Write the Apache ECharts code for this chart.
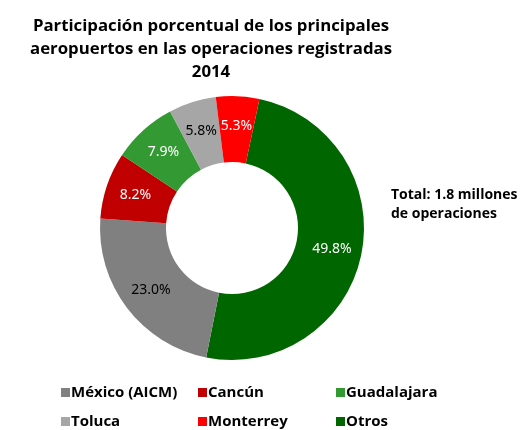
<!DOCTYPE html>
<html>
<head>
<meta charset="utf-8">
<script src="https://cdn.jsdelivr.net/npm/echarts@6/dist/echarts.min.js"></script>
<style>
  html, body { margin: 0; padding: 0; background: #fff; }
  #chart { width: 522px; height: 430px; }
</style>
</head>
<body>
<div id="chart"></div>
<script>
// datos (orden en el anillo, en sentido horario desde arriba)
var aeropuertos = ['Otros', 'México (AICM)', 'Cancún', 'Guadalajara', 'Toluca', 'Monterrey'];
var porcentajes = [49.8, 23.0, 8.2, 7.9, 5.8, 5.3];
var colores = ['#006600', '#808080', '#C00000', '#339933', '#A6A6A6', '#FF0000'];
var colorEtiqueta = ['#fff', '#000', '#fff', '#fff', '#000', '#fff'];

var titulo = 'Participación porcentual de los principales\naeropuertos en las operaciones registradas\n2014';
var nota = 'Total: 1.8 millones\nde operaciones';

// columnas de la leyenda
var leyendaCol1 = ['México (AICM)', 'Toluca'];
var leyendaCol2 = ['Cancún', 'Monterrey'];
var leyendaCol3 = ['Guadalajara', 'Otros'];

var fuente = 'Open Sans';

var datos = aeropuertos.map(function (n, i) {
    return {
        name: n,
        value: porcentajes[i],
        itemStyle: { color: colores[i] },
        label: { color: colorEtiqueta[i] }
    };
});

function leyenda(items, x) {
    return {
        data: items,
        orient: 'vertical',
        left: x,
        top: 385,
        padding: 0,
        itemWidth: 9,
        itemHeight: 9,
        itemGap: 14,
        icon: 'rect',
        textStyle: { fontFamily: fuente, fontWeight: 'bold', fontSize: 15, lineHeight: 15, color: '#000', padding: [0, 0, 0, -4] },
        selectedMode: false
    };
}

var myChart = echarts.init(document.getElementById('chart'));
var option = {
    animation: false,
    title: {
        text: titulo,
        left: 206,
        top: 10,
        textAlign: 'center',
        textStyle: { fontFamily: fuente, fontWeight: 'bold', fontSize: 16.8, lineHeight: 23, color: '#000' }
    },
    legend: [leyenda(leyendaCol1, 61), leyenda(leyendaCol2, 198), leyenda(leyendaCol3, 336)],
    graphic: [{
        type: 'text',
        left: 391,
        top: 186,
        style: { text: nota, fontFamily: fuente, fontWeight: 'bold', fontSize: 14, lineHeight: 19, fill: '#000' }
    }],
    series: [{
        type: 'pie',
        center: [232, 228],
        radius: [66, 132],
        startAngle: 78,
        clockwise: true,
        avoidLabelOverlap: false,
        label: {
            position: 'inside',
            fontFamily: 'Noto Sans',
            fontSize: 14,
            formatter: function (p) { return p.value.toFixed(1) + '%'; }
        },
        labelLine: { show: false },
        emphasis: { disabled: true },
        data: datos
    }]
};
myChart.setOption(option);
</script>
</body>
</html>
